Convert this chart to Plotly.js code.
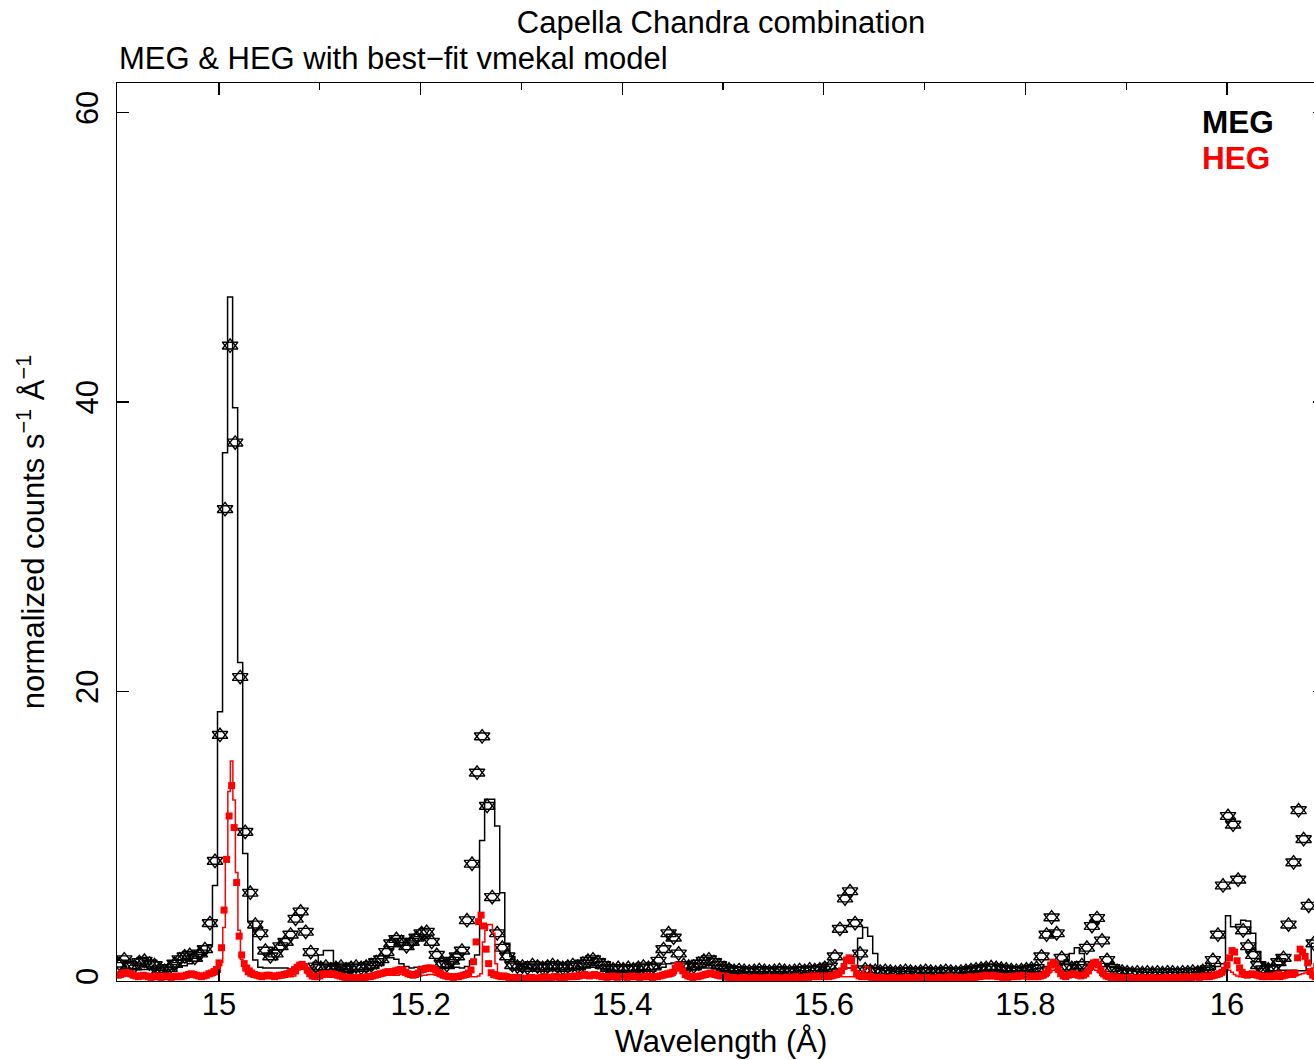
<!DOCTYPE html>
<html>
<head>
<meta charset="utf-8">
<script src="https://cdn.plot.ly/plotly-3.0.1.min.js"></script>
<style>
html, body { margin: 0; padding: 0; overflow: hidden; background: #fff; }
#chart { width: 1330px; height: 1060px; }
</style>
</head>
<body>
<div id="chart"></div>
<script>
// ---------------- DATA ----------------
// MEG: bin centres start at 14.901 Å, bin width 0.005 Å
const MEG_START = 14.901;
const MEG_BIN = 0.005;
// HEG: bin centres start at 14.900 Å, bin width 0.0025 Å
const HEG_START = 14.900;
const HEG_BIN = 0.0025;

// MEG observed counts (normalized counts s^-1 Å^-1)
const megCounts = [
  1.2,1.5,1.1,1.0,1.3,1.4,1.2,1.1,0.8,0.7,
  0.9,1.2,1.5,1.7,1.8,1.6,1.9,2.2,4.0,8.3,
  17.0,32.6,43.9,37.2,21.0,10.3,6.1,3.9,3.3,2.1,
  1.7,1.9,2.4,2.7,3.2,4.3,4.8,3.4,2.0,1.0,
  0.9,1.0,0.8,0.9,1.0,0.8,0.9,1.0,0.9,1.0,
  1.1,1.3,1.5,2.0,2.6,2.9,2.7,2.4,2.7,3.0,
  3.3,3.4,2.7,1.8,1.2,1.1,1.4,1.7,2.1,4.2,
  8.1,14.4,16.9,12.1,5.8,3.3,2.3,1.7,1.1,1.0,
  1.0,0.9,1.1,1.0,0.9,1.0,1.1,1.0,0.9,1.0,
  1.1,1.0,1.2,1.4,1.5,1.3,1.1,0.9,0.8,0.9,
  0.8,0.9,0.8,0.9,1.0,0.9,1.0,1.4,2.2,3.3,
  3.0,1.9,1.1,1.0,1.0,1.2,1.4,1.5,1.3,1.1,
  0.9,0.8,0.7,0.75,0.7,0.65,0.7,0.75,0.7,0.65,
  0.7,0.75,0.7,0.65,0.7,0.75,0.7,0.8,0.75,0.8,
  0.9,1.0,1.7,3.6,5.7,6.2,4.0,1.9,0.8,0.7,
  0.7,0.65,0.7,0.65,0.6,0.65,0.7,0.65,0.6,0.65,
  0.7,0.65,0.6,0.65,0.7,0.65,0.6,0.65,0.7,0.75,
  0.8,0.85,0.9,0.95,0.9,0.85,0.8,0.75,0.7,0.75,
  0.8,0.85,0.9,1.7,3.2,4.4,3.3,1.6,1.0,0.9,
  0.9,1.1,2.3,3.8,4.35,2.8,1.45,0.9,0.7,0.65,
  0.6,0.55,0.6,0.55,0.6,0.55,0.6,0.55,0.6,0.6,
  0.55,0.6,0.6,0.65,0.6,0.7,0.8,1.45,3.2,6.6,
  11.4,10.8,7.0,3.5,2.4,1.8,1.1,0.8,0.8,0.9,
  1.3,1.6,3.9,8.2,11.8,9.8,5.2,2.6
];

// MEG best-fit vmekal model (same bins)
const megModel = [
  0.8,0.8,0.8,0.8,0.8,0.8,0.8,0.75,0.75,0.75,
  0.8,0.85,0.95,1.05,1.2,1.35,1.6,1.9,2.5,6.6,
  18.6,36.5,47.25,39.6,22.0,8.8,4.1,1.45,0.95,0.9,
  0.9,0.9,0.9,0.9,0.85,0.85,0.85,0.85,0.9,1.3,
  1.8,2.1,2.1,1.2,0.9,0.8,0.8,0.8,0.8,0.8,
  0.85,0.9,1.1,1.7,1.6,1.5,1.2,1.0,0.9,0.95,
  1.0,1.05,1.0,0.95,0.9,0.9,0.95,0.95,0.9,1.0,
  1.4,1.8,9.7,12.55,12.55,10.7,6.1,2.6,1.7,1.2,
  1.0,0.9,0.85,0.85,0.8,0.8,0.8,0.8,0.8,0.8,
  0.8,0.8,0.85,0.9,0.95,0.9,0.85,0.8,0.75,0.75,
  0.75,0.75,0.75,0.75,0.75,0.8,0.8,0.85,0.95,1.2,
  1.25,1.0,0.85,0.8,0.8,0.85,0.9,0.9,0.85,0.8,
  0.75,0.7,0.7,0.7,0.65,0.65,0.65,0.65,0.65,0.65,
  0.65,0.65,0.65,0.65,0.65,0.7,0.7,0.7,0.7,0.75,
  0.75,0.8,0.85,0.85,0.9,0.9,0.95,2.95,3.7,3.1,
  1.9,0.8,0.7,0.7,0.65,0.65,0.65,0.65,0.6,0.6,
  0.6,0.6,0.6,0.6,0.6,0.6,0.6,0.6,0.65,0.65,
  0.7,0.7,0.75,0.8,0.8,0.75,0.7,0.7,0.7,0.75,
  0.75,0.8,0.85,0.9,1.0,1.1,1.1,1.2,1.45,1.9,
  2.3,1.9,1.1,1.0,1.0,1.0,1.0,1.0,1.0,0.9,
  0.8,0.7,0.65,0.6,0.6,0.6,0.6,0.6,0.6,0.6,
  0.6,0.6,0.6,0.6,0.65,0.7,0.75,0.8,1.0,1.2,
  4.5,3.75,3.9,4.2,4.15,3.3,2.0,1.25,0.7,0.7,
  0.7,0.75,0.75,0.75,0.7,0.7,1.2,2.6
];

// HEG observed counts
const hegCounts = [
  0.4,0.45,0.55,0.6,0.55,0.5,0.4,0.35,0.3,0.35,0.4,0.35,0.3,0.25,0.3,0.35,0.3,0.25,0.3,0.35,
  0.3,0.25,0.3,0.35,0.3,0.3,0.35,0.4,0.45,0.5,0.45,0.4,0.35,0.3,0.35,0.4,0.5,0.55,0.65,0.8,
  1.25,2.3,4.9,8.4,11.4,13.5,10.6,6.8,3.1,1.8,1.2,0.9,0.7,0.55,0.45,0.4,0.35,0.3,0.35,0.4,
  0.4,0.35,0.3,0.35,0.4,0.4,0.45,0.5,0.55,0.65,0.8,0.95,1.1,1.15,1.0,0.75,0.5,0.35,0.3,0.3,
  0.35,0.45,0.5,0.5,0.45,0.5,0.45,0.4,0.35,0.3,0.25,0.2,0.2,0.25,0.2,0.2,0.25,0.2,0.25,0.3,
  0.3,0.35,0.4,0.45,0.5,0.55,0.6,0.65,0.6,0.65,0.7,0.75,0.8,0.75,0.6,0.5,0.45,0.4,0.45,0.55,
  0.75,0.8,0.85,0.9,0.9,0.85,0.75,0.6,0.5,0.4,0.35,0.3,0.3,0.25,0.3,0.3,0.35,0.4,0.45,0.55,
  0.76,1.33,2.7,4.1,4.55,3.8,2.2,1.2,0.57,0.45,0.4,0.35,0.3,0.35,0.3,0.25,0.2,0.25,0.2,0.25,
  0.2,0.15,0.15,0.2,0.25,0.2,0.15,0.2,0.25,0.3,0.25,0.2,0.25,0.3,0.3,0.25,0.2,0.25,0.3,0.3,
  0.3,0.35,0.3,0.35,0.4,0.45,0.4,0.35,0.4,0.45,0.4,0.35,0.3,0.3,0.25,0.3,0.35,0.3,0.25,0.3,
  0.3,0.3,0.25,0.3,0.35,0.3,0.3,0.25,0.3,0.3,0.35,0.3,0.25,0.3,0.3,0.35,0.4,0.45,0.5,0.55,
  0.6,0.9,1.1,1.0,0.7,0.45,0.35,0.3,0.25,0.3,0.3,0.35,0.4,0.45,0.5,0.55,0.5,0.45,0.4,0.35,
  0.35,0.3,0.25,0.2,0.25,0.2,0.15,0.2,0.25,0.2,0.2,0.15,0.2,0.25,0.2,0.15,0.2,0.2,0.25,0.2,
  0.2,0.25,0.2,0.15,0.2,0.25,0.2,0.2,0.25,0.3,0.25,0.2,0.25,0.3,0.25,0.3,0.35,0.3,0.3,0.35,
  0.3,0.35,0.3,0.35,0.4,0.45,0.55,0.7,1.0,1.45,1.6,1.4,0.9,0.5,0.35,0.3,0.3,0.35,0.3,0.25,
  0.25,0.2,0.2,0.25,0.2,0.15,0.2,0.25,0.2,0.2,0.15,0.2,0.2,0.25,0.2,0.15,0.2,0.25,0.2,0.2,
  0.2,0.25,0.2,0.15,0.2,0.2,0.25,0.2,0.2,0.25,0.3,0.25,0.2,0.2,0.25,0.2,0.2,0.25,0.3,0.25,
  0.25,0.3,0.3,0.35,0.4,0.35,0.35,0.4,0.35,0.3,0.3,0.25,0.3,0.25,0.3,0.3,0.35,0.3,0.35,0.4,
  0.35,0.3,0.3,0.35,0.3,0.3,0.35,0.4,0.5,0.75,1.1,1.3,1.15,0.8,0.5,0.35,0.3,0.4,0.45,0.5,
  0.45,0.4,0.35,0.4,0.5,0.7,1.0,1.25,1.3,1.1,0.75,0.5,0.35,0.3,0.25,0.3,0.25,0.2,0.25,0.2,
  0.2,0.25,0.2,0.15,0.2,0.2,0.25,0.2,0.15,0.2,0.25,0.2,0.2,0.15,0.2,0.25,0.2,0.2,0.25,0.2,
  0.25,0.2,0.25,0.3,0.25,0.2,0.25,0.3,0.3,0.25,0.3,0.35,0.3,0.3,0.35,0.4,0.45,0.5,0.6,0.75,
  1.1,1.6,2.1,2.0,1.4,0.9,0.6,0.45,0.4,0.45,0.5,0.45,0.4,0.35,0.3,0.3,0.35,0.3,0.3,0.35,
  0.35,0.3,0.35,0.4,0.45,0.5,0.45,0.55,1.6,2.2,2.0,1.7,1.25,0.65,0.4,0.3
];

// HEG best-fit vmekal model
const hegModel = [
  0.3,0.3,0.35,0.35,0.35,0.3,0.3,0.3,0.3,0.3,0.3,0.3,0.3,0.3,0.3,0.3,0.3,0.3,0.3,0.3,
  0.3,0.3,0.3,0.3,0.3,0.3,0.3,0.3,0.3,0.3,0.3,0.3,0.3,0.3,0.3,0.35,0.35,0.35,0.4,0.45,
  0.6,1.3,3.7,8.4,13.1,15.2,12.5,7.5,3.5,1.5,0.7,0.45,0.35,0.3,0.3,0.3,0.3,0.3,0.3,0.3,
  0.3,0.3,0.3,0.3,0.3,0.3,0.3,0.3,0.3,0.3,0.35,0.5,0.8,0.9,0.8,0.5,0.35,0.3,0.3,0.3,
  0.3,0.35,0.45,0.55,0.55,0.45,0.35,0.3,0.25,0.25,0.25,0.25,0.25,0.25,0.25,0.25,0.25,0.25,0.25,0.25,
  0.25,0.25,0.3,0.3,0.35,0.35,0.4,0.4,0.4,0.4,0.4,0.4,0.45,0.45,0.4,0.35,0.35,0.35,0.35,0.35,
  0.35,0.4,0.4,0.45,0.45,0.45,0.4,0.35,0.3,0.3,0.3,0.25,0.25,0.25,0.25,0.25,0.3,0.3,0.3,0.3,
  0.3,0.3,0.3,0.35,0.5,2.7,3.5,3.9,3.9,3.3,1.2,0.5,0.3,0.25,0.25,0.25,0.2,0.2,0.2,0.2,
  0.2,0.2,0.2,0.2,0.2,0.2,0.2,0.2,0.2,0.2,0.2,0.2,0.2,0.2,0.2,0.2,0.2,0.2,0.2,0.2,
  0.25,0.25,0.25,0.25,0.3,0.3,0.3,0.3,0.3,0.3,0.25,0.25,0.25,0.25,0.25,0.25,0.25,0.25,0.25,0.25,
  0.25,0.25,0.25,0.25,0.25,0.25,0.25,0.25,0.25,0.25,0.25,0.25,0.25,0.25,0.25,0.25,0.25,0.25,0.3,0.3,
  0.35,0.5,0.7,0.75,0.6,0.4,0.3,0.25,0.25,0.25,0.25,0.3,0.35,0.4,0.4,0.35,0.3,0.25,0.25,0.25,
  0.2,0.2,0.2,0.2,0.2,0.2,0.2,0.2,0.2,0.2,0.2,0.2,0.2,0.2,0.2,0.2,0.2,0.2,0.2,0.2,
  0.2,0.2,0.2,0.2,0.2,0.2,0.2,0.2,0.2,0.2,0.2,0.2,0.2,0.2,0.2,0.2,0.2,0.2,0.2,0.2,
  0.25,0.25,0.25,0.25,0.25,0.3,0.3,0.3,0.3,0.3,0.3,0.3,0.3,0.3,0.35,0.5,0.75,1.0,0.9,0.5,
  0.3,0.25,0.2,0.2,0.2,0.2,0.2,0.2,0.2,0.2,0.2,0.2,0.2,0.2,0.2,0.2,0.2,0.2,0.2,0.2,
  0.2,0.2,0.2,0.2,0.2,0.2,0.2,0.2,0.2,0.2,0.2,0.2,0.2,0.2,0.2,0.2,0.2,0.2,0.2,0.2,
  0.25,0.25,0.25,0.3,0.3,0.3,0.3,0.3,0.3,0.25,0.25,0.25,0.25,0.25,0.25,0.25,0.25,0.25,0.25,0.25,
  0.25,0.25,0.25,0.25,0.25,0.25,0.25,0.25,0.3,0.4,0.6,0.75,0.8,0.6,0.4,0.3,0.3,0.3,0.3,0.3,
  0.3,0.3,0.3,0.35,0.45,0.6,0.75,0.8,0.75,0.6,0.4,0.3,0.25,0.25,0.2,0.2,0.2,0.2,0.2,0.2,
  0.2,0.2,0.2,0.2,0.2,0.2,0.2,0.2,0.2,0.2,0.2,0.2,0.2,0.2,0.2,0.2,0.2,0.2,0.2,0.2,
  0.2,0.2,0.2,0.2,0.2,0.2,0.2,0.2,0.2,0.2,0.2,0.2,0.2,0.2,0.2,0.3,0.35,0.45,0.6,0.75,
  0.8,0.75,0.6,0.45,0.35,0.3,0.3,0.3,0.3,0.3,0.3,0.3,0.3,0.3,0.3,0.3,0.35,0.4,0.5,0.6,
  0.65,0.65,0.55,0.45,0.4,0.35,0.35,0.35,0.4,0.45,0.5,0.55,0.6,0.7,0.9,1.2
];

// Axis ticks
const xTickVals = [15, 15.2, 15.4, 15.6, 15.8, 16];
const xTickText = ['15', '15.2', '15.4', '15.6', '15.8', '16'];
const xMinorVals = [15.1, 15.3, 15.5, 15.7, 15.9, 16.1];
const yTickVals = [0, 20, 40, 60];
const yTickText = ['0', '20', '40', '60'];

// ---------------- PLOT ----------------
const megWave = megCounts.map((_, i) => +(MEG_START + i * MEG_BIN).toFixed(4));
const hegWave = hegCounts.map((_, i) => +(HEG_START + i * HEG_BIN).toFixed(5));

const FONT = 'Liberation Sans, Arial, Helvetica, sans-serif';
const STAR_SIZE = 13.5;

const traces = [
  { x: megWave, y: megModel, type: 'scatter', mode: 'lines', name: 'MEG model',
    line: { color: '#000000', width: 1.5, shape: 'hvh' }, hoverinfo: 'skip' },
  // MEG data drawn as a Star of David: an up and a down open triangle at each point
  { x: megWave, y: megCounts, type: 'scatter', mode: 'markers', name: 'MEG',
    marker: { symbol: 'triangle-up-open', size: STAR_SIZE, color: '#000000', line: { width: 1.4, color: '#000000' } } },
  { x: megWave, y: megCounts, type: 'scatter', mode: 'markers', name: 'MEG ',
    marker: { symbol: 'triangle-down-open', size: STAR_SIZE, color: '#000000', line: { width: 1.4, color: '#000000' } } },
  { x: hegWave, y: hegModel, type: 'scatter', mode: 'lines', name: 'HEG model',
    line: { color: '#ff0000', width: 1.5, shape: 'hvh' }, hoverinfo: 'skip' },
  { x: hegWave, y: hegCounts, type: 'scatter', mode: 'markers', name: 'HEG',
    marker: { symbol: 'square', size: 7, color: '#ff0000', line: { width: 0 } } }
];

const layout = {
  width: 1330, height: 1060,
  margin: { l: 117, r: 5, t: 83, b: 79 },
  paper_bgcolor: '#ffffff', plot_bgcolor: '#ffffff',
  showlegend: false,
  font: { family: FONT, color: '#000000', size: 31 },
  title: { text: 'Capella Chandra combination', x: 0.5, xref: 'paper', xanchor: 'center',
           y: 1 - 22 / 1060, yref: 'container', yanchor: 'middle', font: { family: FONT, size: 31 } },
  xaxis: {
    range: [14.8988, 16.0972],
    tickmode: 'array', tickvals: xTickVals, ticktext: xTickText,
    ticks: 'inside', ticklen: 12, tickwidth: 1.2, tickcolor: '#000',
    minor: { tickmode: 'array', tickvals: xMinorVals, ticks: 'inside', ticklen: 7, tickwidth: 1.2, tickcolor: '#000' },
    showline: true, linecolor: '#000', linewidth: 1.2, mirror: 'ticks',
    showgrid: false, zeroline: false,
    tickfont: { family: FONT, size: 31 },
    ticklabelstandoff: -4,
    title: { text: 'Wavelength (Å)', font: { family: FONT, size: 31 }, standoff: 8 }
  },
  yaxis: {
    range: [0, 62.04],
    tickmode: 'array', tickvals: yTickVals, ticktext: yTickText,
    ticks: 'inside', ticklen: 12, tickwidth: 1.2, tickcolor: '#000',
    tickangle: -90,
    showline: true, linecolor: '#000', linewidth: 1.2, mirror: 'ticks',
    showgrid: false, zeroline: false,
    tickfont: { family: FONT, size: 31 },
    ticklabelstandoff: 5,
    title: { text: 'normalized counts s<sup>−1</sup> Å<sup>−1</sup>', font: { family: FONT, size: 31 }, standoff: 16 }
  },
  annotations: [
    { text: 'MEG & HEG with best−fit vmekal model', xref: 'paper', yref: 'paper',
      x: 0, y: 1 + 25 / 898, xanchor: 'left', yanchor: 'middle', showarrow: false,
      font: { family: FONT, size: 31, color: '#000' } },
    { text: '<b>MEG</b>', xref: 'paper', yref: 'paper',
      x: (1200 - 117) / 1208, y: (981 - 122) / 898, xanchor: 'left', yanchor: 'middle', showarrow: false,
      font: { family: FONT, size: 31.5, color: '#000000' } },
    { text: '<b>HEG</b>', xref: 'paper', yref: 'paper',
      x: (1200 - 117) / 1208, y: (981 - 158) / 898, xanchor: 'left', yanchor: 'middle', showarrow: false,
      font: { family: FONT, size: 31.5, color: '#ff0000' } }
  ]
};

Plotly.newPlot('chart', traces, layout, { staticPlot: true, displayModeBar: false });
</script>
</body>
</html>
